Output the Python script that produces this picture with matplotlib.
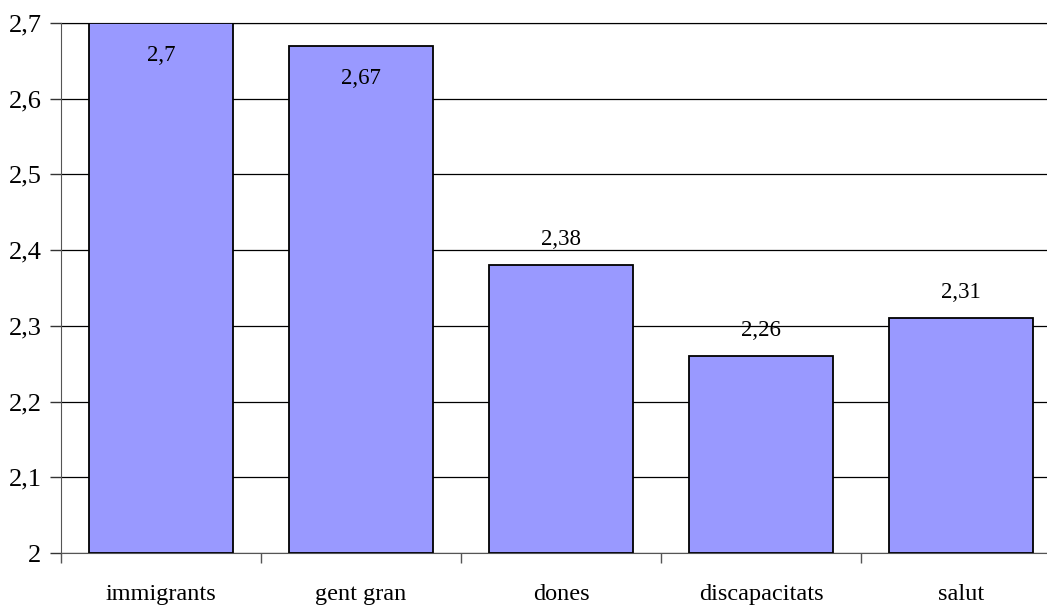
import matplotlib
matplotlib.use("Agg")
import matplotlib.pyplot as plt
from matplotlib.ticker import FuncFormatter, FixedLocator

categories = ["immigrants", "gent gran", "dones", "discapacitats", "salut"]
values = [2.70, 2.67, 2.38, 2.26, 2.31]
value_labels = ["2,7", "2,67", "2,38", "2,26", "2,31"]

plt.rcParams['font.family'] = ['Liberation Serif', 'DejaVu Serif']

fig = plt.figure(figsize=(10.47, 6.06), dpi=100)
W, H = 1047, 606
ax = fig.add_axes([61 / W, 53 / H, 1000 / W, 530 / H])

x = list(range(len(categories)))
ax.bar(x, [v - 2 for v in values], bottom=2, width=0.72,
       color="#9999FF", edgecolor="black", linewidth=1.3, zorder=3)

ax.set_xlim(-0.5, len(categories) - 0.5)
ax.set_ylim(2, 2.7)
yt = [2 + i / 10 for i in range(8)]
ax.set_yticks(yt)
ax.yaxis.set_major_formatter(FuncFormatter(
    lambda v, p: "2" if abs(v - 2) < 1e-9 else ("%.1f" % v).replace(".", ",")))
ax.grid(axis="y", color="black", linewidth=0.9, zorder=0)

ax.set_xticks(x)
ax.set_xticklabels(categories, fontsize=17.5)
ax.tick_params(axis="x", length=0, pad=22)
ax.xaxis.set_minor_locator(FixedLocator([i - 0.5 for i in range(len(categories) + 1)]))
ax.tick_params(axis="x", which="minor", length=7, width=1, color="#555555")
ax.tick_params(axis="y", length=8, width=1, labelsize=19, pad=6, color="#333333")

for s in ["top", "right"]:
    ax.spines[s].set_visible(False)
ax.spines["left"].set_color("#555555")
ax.spines["bottom"].set_color("#555555")
ax.axhline(2.7, color="#999999", linewidth=1, zorder=1, clip_on=False)

for xi, v, lab in zip(x, values, value_labels):
    if v > 2.6:
        ax.text(xi, v - 0.043, lab, ha="center", va="center", fontsize=16.5, zorder=4)
    else:
        ax.text(xi, v + 0.034, lab, ha="center", va="center", fontsize=16.5, zorder=4)

fig.savefig("out.png", dpi=100)
